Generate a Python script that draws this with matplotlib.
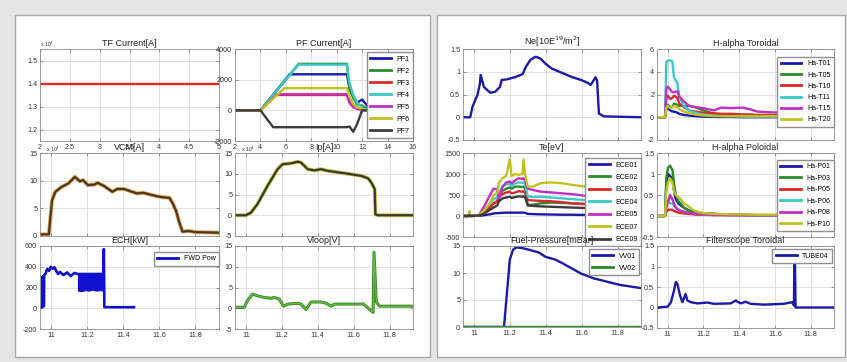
import matplotlib.pyplot as plt
from matplotlib.patches import Rectangle
from matplotlib.ticker import FormatStrFormatter

plt.rcParams['font.family'] = ['Liberation Sans', 'DejaVu Sans']

# ---- left panel data ----
tf_x = [2.0, 5.0]
tf_y = [1.4, 1.4]

pf_x = [2.0, 4.0, 5.0, 5.3, 5.9, 6.3, 7.0, 10.8, 11.0, 11.3, 11.6, 12.0, 12.4, 12.8]
pf1 = [0, 0, 1020, 1330, 1940, 2350, 2350, 2350, 1500, 900, 500, 700, 300, 0]
pf2 = [0, 0, 1000, 1300, 1900, 2300, 3030, 3030, 1400, 800, 400, 300, 100, 0]
pf3 = [0, 0, 800, 1000, 1000, 1000, 1000, 1000, 600, 300, 150, 50, 0, 0]
pf4 = [0, 0, 1000, 1300, 1900, 2300, 2980, 2980, 1800, 1000, 500, 200, 0, 0]
pf5 = [0, 0, 800, 1050, 1050, 1050, 1050, 1050, 500, 200, 100, 0, 0, 0]
pf6 = [0, 0, 760, 990, 1450, 1450, 1450, 1450, 900, 400, 200, 100, 0, 0]
pf7 = [0, 0, -1100, -1100, -1100, -1100, -1100, -1100, -1050, -1400, -900, 0, 0, 0]
pf_labels = ['PF1', 'PF2', 'PF3', 'PF4', 'PF5', 'PF6', 'PF7']

vcm_t = [10.935, 10.989, 10.998, 11.007, 11.025, 11.061, 11.097, 11.133, 11.16, 11.178,
         11.205, 11.241, 11.259, 11.296, 11.34, 11.368, 11.404, 11.44, 11.476, 11.512,
         11.548, 11.584, 11.62, 11.656, 11.674, 11.692, 11.71, 11.728, 11.764, 11.8, 11.93]
vcm = [0.3, 0.3, 3.5, 6.5, 8.0, 8.9, 9.5, 10.7, 9.9, 10.1,
       9.2, 9.3, 9.6, 9.0, 8.0, 8.5, 8.5, 8.1, 7.7, 7.8,
       7.5, 7.2, 7.0, 6.9, 5.9, 4.6, 2.5, 0.8, 0.9, 0.7, 0.6]

ip_t = [10.94, 11.0, 11.028, 11.065, 11.121, 11.177, 11.205, 11.251, 11.289, 11.307,
        11.345, 11.382, 11.419, 11.456, 11.568, 11.642, 11.68, 11.698, 11.717, 11.721,
        11.736, 11.93]
ip = [0, 0, 0.6, 2.7, 7.1, 11.1, 12.3, 12.5, 12.9, 12.7,
      11.1, 10.8, 11.1, 10.7, 10.0, 9.5, 8.9, 7.9, 6.3, 0.2,
      0, 0]

ech_t = [10.945, 10.952, 10.953, 10.957, 10.958, 10.962, 10.963, 10.97, 10.98, 10.99,
         11.0, 11.01, 11.02, 11.03, 11.04, 11.05, 11.07, 11.09, 11.11, 11.13,
         11.15, 11.29, 11.293, 11.296, 11.46]
ech = [10, 10, 300, 310, 20, 20, 320, 330, 380, 360,
       400, 380, 395, 360, 330, 350, 320, 345, 310, 340,
       330, 330, 570, 10, 10]
ech_band_t = [11.15, 11.17, 11.19, 11.21, 11.23, 11.25, 11.27, 11.29]
ech_band_lo = [170, 165, 175, 170, 180, 170, 175, 170]
ech_band_hi = [335, 340, 335, 330, 338, 330, 325, 335]

vloop_t = [10.94, 10.991, 11.009, 11.037, 11.065, 11.102, 11.14, 11.158, 11.186, 11.21,
           11.233, 11.289, 11.307, 11.335, 11.363, 11.419, 11.447, 11.475, 11.493, 11.512,
           11.642, 11.652, 11.708, 11.713, 11.726, 11.745, 11.773, 11.93]
vloop = [0.2, 0.2, 1.8, 3.4, 3.0, 2.6, 2.4, 2.6, 2.2, 0.5,
         1.0, 1.2, 1.0, -0.3, 1.5, 1.5, 1.2, 0.5, 1.0, 1.0,
         1.0, 1.1, -1.0, 13.5, 1.5, 0.5, 0.5, 0.5]

# ---- right panel data ----
ne_t = [10.948, 10.98, 10.993, 11.011, 11.02, 11.034, 11.038, 11.056, 11.074, 11.092,
        11.119, 11.146, 11.155, 11.182, 11.236, 11.272, 11.29, 11.308, 11.317, 11.344,
        11.371, 11.398, 11.434, 11.488, 11.542, 11.596, 11.632, 11.65, 11.668, 11.677,
        11.686, 11.696, 11.723, 11.93]
ne = [0, 0, 0.23, 0.41, 0.48, 0.74, 0.93, 0.67, 0.6, 0.54,
      0.56, 0.67, 0.82, 0.83, 0.89, 0.95, 1.11, 1.22, 1.27, 1.33,
      1.29, 1.18, 1.07, 0.98, 0.89, 0.82, 0.76, 0.71, 0.82, 0.88,
      0.8, 0.08, 0.02, 0]

hat_t = [10.944, 10.985, 10.992, 11.0, 11.015, 11.026, 11.035, 11.054, 11.065, 11.09,
         11.12, 11.15, 11.2, 11.26, 11.3, 11.35, 11.42, 11.46, 11.5, 11.55,
         11.65, 11.75, 11.85, 11.93]
ha_t01 = [0, 0, 0.7, 0.8, 0.6, 0.5, 0.5, 0.4, 0.3, 0.2, 0.15, 0.1, 0.05, 0.03, 0.02, 0.02,
          0, 0, 0, 0, 0, 0, 0, 0]
ha_t05 = [0, 0, 0.9, 1.1, 0.9, 0.9, 1.2, 1.1, 1.0, 1.0, 1.0, 0.9, 0.6, 0.3, 0.2, 0.15,
          0.1, 0.1, 0.1, 0.1, 0.05, 0.05, 0.05, 0.05]
ha_t10 = [0, 0, 1.6, 1.9, 1.6, 1.7, 1.9, 1.7, 1.2, 0.9, 0.6, 0.5, 0.4, 0.35, 0.3, 0.3,
          0.25, 0.25, 0.2, 0.2, 0.2, 0.2, 0.2, 0.2]
ha_t11 = [0, 0, 4.8, 5.0, 5.0, 4.9, 3.5, 3.0, 1.8, 1.0, 0.6, 0.4, 0.25, 0.15, 0.1, 0.08,
          0.06, 0.05, 0.05, 0.05, 0.05, 0.05, 0.05, 0.05]
ha_t15 = [0, 0, 2.5, 2.7, 2.4, 2.2, 2.2, 2.3, 1.8, 1.4, 1.0, 0.9, 0.8, 0.6, 0.85, 0.8,
          0.85, 0.7, 0.5, 0.45, 0.4, 0.38, 0.3, 0.28]
ha_t20 = [0, 0, 0.8, 1.0, 0.8, 0.9, 1.0, 0.9, 0.7, 0.5, 0.35, 0.25, 0.15, 0.1, 0.1, 0.1,
          0.1, 0.1, 0.1, 0.1, 0.1, 0.1, 0.1, 0.1]
hat_labels = ['Ha-T01', 'Ha-T05', 'Ha-T10', 'Ha-T11', 'Ha-T15', 'Ha-T20']

te_t = [10.94, 10.97, 10.975, 10.98, 11.03, 11.06, 11.09, 11.11, 11.13, 11.14,
        11.16, 11.18, 11.20, 11.21, 11.23, 11.25, 11.27, 11.277, 11.285, 11.30,
        11.33, 11.37, 11.43, 11.49, 11.55, 11.62, 11.70, 11.80, 11.93]
ece01 = [0, 0, 10, 0, 5, 20, 40, 60, 70, 70, 75, 80, 80, 80, 80, 80, 80, 80, 75, 50,
         45, 40, 35, 30, 30, 25, 20, 20, 20]
ece02 = [0, 0, 30, 0, 10, 100, 200, 300, 350, 450, 600, 650, 680, 650, 700, 700, 690, 700, 650, 260,
         270, 300, 320, 310, 300, 290, 270, 250, 230]
ece03 = [0, 0, 30, 0, 10, 100, 200, 300, 350, 450, 520, 560, 580, 540, 560, 590, 580, 590, 560, 380,
         370, 360, 350, 330, 300, 280, 250, 220, 200]
ece04 = [0, 0, 40, 0, 20, 150, 300, 400, 450, 550, 700, 750, 760, 720, 780, 800, 790, 800, 760, 470,
         450, 460, 440, 420, 400, 380, 350, 320, 300]
ece05 = [0, 0, 50, 0, 30, 250, 500, 650, 640, 400, 700, 800, 820, 780, 850, 900, 880, 900, 850, 650,
         620, 580, 560, 540, 520, 480, 440, 400, 370]
ece07 = [0, 0, 120, 0, 20, 150, 300, 500, 550, 800, 900, 950, 1350, 950, 1000, 980, 1000, 1350, 1000, 700,
         700, 780, 800, 780, 740, 700, 660, 620, 590]
ece09 = [0, 0, 20, 0, 10, 60, 150, 200, 250, 350, 420, 440, 460, 430, 450, 470, 460, 470, 450, 250,
         240, 230, 220, 210, 200, 190, 170, 150, 140]
ece_labels = ['ECE01', 'ECE02', 'ECE03', 'ECE04', 'ECE05', 'ECE07', 'ECE09']

hap_t = [10.944, 10.985, 10.992, 11.002, 11.013, 11.026, 11.035, 11.045, 11.06, 11.073,
         11.09, 11.11, 11.14, 11.166, 11.2, 11.259, 11.35, 11.5, 11.7, 11.93]
ha_p01 = [0, 0, 0.8, 1.0, 0.95, 0.9, 0.6, 0.4, 0.3, 0.25, 0.2, 0.15, 0.1, 0.08, 0.06, 0.05, 0.03, 0.02, 0.02, 0.02]
ha_p03 = [0, 0, 0.9, 1.15, 1.2, 1.1, 0.8, 0.5, 0.35, 0.3, 0.2, 0.15, 0.1, 0.08, 0.06, 0.05, 0.03, 0.02, 0.02, 0.02]
ha_p05 = [0, 0, 0.1, 0.15, 0.15, 0.15, 0.12, 0.1, 0.08, 0.07, 0.06, 0.05, 0.04, 0.03, 0.03, 0.02, 0.02, 0.02, 0.02, 0.02]
ha_p06 = [0, 0, 0.25, 0.35, 0.3, 0.3, 0.25, 0.2, 0.15, 0.12, 0.1, 0.08, 0.06, 0.05, 0.04, 0.03, 0.02, 0.02, 0.02, 0.02]
ha_p08 = [0, 0, 0.2, 0.35, 0.5, 0.4, 0.3, 0.2, 0.15, 0.12, 0.1, 0.08, 0.06, 0.05, 0.04, 0.03, 0.02, 0.02, 0.02, 0.02]
ha_p10 = [0, 0, 0.6, 0.8, 0.9, 0.8, 0.6, 0.5, 0.45, 0.4, 0.3, 0.25, 0.15, 0.1, 0.07, 0.05, 0.04, 0.03, 0.03, 0.03]
hap_labels = ['Ha-P01', 'Ha-P03', 'Ha-P05', 'Ha-P06', 'Ha-P08', 'Ha-P10']

fuel_t = [10.94, 11.168, 11.186, 11.2, 11.218, 11.236, 11.272, 11.308, 11.362, 11.398,
          11.452, 11.488, 11.542, 11.596, 11.668, 11.74, 11.812, 11.93]
vv01 = [0, 0, 6.9, 12.4, 14.3, 14.75, 14.6, 14.3, 13.8, 13.0,
        12.5, 11.9, 10.9, 9.9, 9.0, 8.4, 7.8, 7.2]
vv02 = [0] * len(fuel_t)

tube_t = [10.944, 11.0, 11.018, 11.035, 11.045, 11.054, 11.069, 11.082, 11.1, 11.11,
          11.129, 11.166, 11.222, 11.259, 11.352, 11.38, 11.408, 11.436, 11.464, 11.538,
          11.65, 11.696, 11.706, 11.709, 11.711, 11.715, 11.93]
tube04 = [0, 0.02, 0.13, 0.41, 0.62, 0.58, 0.29, 0.13, 0.33, 0.17,
          0.13, 0.1, 0.12, 0.09, 0.1, 0.17, 0.1, 0.14, 0.09, 0.07,
          0.09, 0.13, 0.05, 1.4, 1.4, 0.0, 0.0]

BLUE = '#1a1aa6'
GREEN = '#2a8a2a'
RED = '#e02828'
CYAN = '#3cc8c8'
MAG = '#c030c0'
YEL = '#c0c020'
DARK = '#3c3c3c'
six = [BLUE, GREEN, RED, CYAN, MAG, YEL]
seven = [BLUE, GREEN, RED, CYAN, MAG, YEL, DARK]

W, H = 847, 362
fig = plt.figure(figsize=(8.47, 3.62), dpi=100)
fig.patch.set_facecolor('#e4e4e4')

# white panels
for x0, x1 in [(15, 430), (437, 845)]:
    fig.add_artist(Rectangle((x0 / W, 1 - 357 / H), (x1 - x0) / W, 342 / H,
                             transform=fig.transFigure, facecolor='white',
                             edgecolor='#a8a8a8', lw=1.0, zorder=-5))


def make_axes(x0, y0, x1, y1):
    return fig.add_axes([x0 / W, 1 - y1 / H, (x1 - x0) / W, (y1 - y0) / H])


def style(ax, title, xlim, ylim, xticks, yticks, xlabels=True):
    ax.set_xlim(xlim)
    ax.set_ylim(ylim)
    ax.set_xticks(xticks)
    ax.set_yticks(yticks)
    ax.xaxis.set_major_formatter(FormatStrFormatter('%g'))
    ax.yaxis.set_major_formatter(FormatStrFormatter('%g'))
    ax.grid(True, color='#dcdcdc', lw=0.6)
    ax.set_axisbelow(True)
    ax.tick_params(labelsize=5.2, length=2, width=0.5, direction='in', top=True, right=True,
                   colors='#707070', labelcolor='#333333', pad=2)
    if not xlabels:
        ax.tick_params(labelbottom=False)
    for s in ax.spines.values():
        s.set_color('#8a8a8a')
        s.set_linewidth(0.6)
    ax.set_title(title, fontsize=6.5, pad=2.5, color='#222222')


def legend(ax, labels, anchor, spacing=0.7):
    leg = ax.legend(labels, loc='upper right', bbox_to_anchor=anchor, fontsize=5,
                    borderaxespad=0, handlelength=3.0, handletextpad=0.8, labelspacing=spacing,
                    borderpad=0.5, fancybox=False, edgecolor='#909090', framealpha=1)
    for line in leg.get_lines():
        line.set_linewidth(2.0)


time_lim = (10.94, 11.93)
time_ticks = [11, 11.2, 11.4, 11.6, 11.8]
LW = 1.7

# TF Current
ax = make_axes(40, 49, 219, 141)
ax.plot(tf_x, tf_y, color=RED, lw=LW)
style(ax, 'TF Current[A]', (2, 5), (1.15, 1.55), [2, 2.5, 3, 3.5, 4, 4.5, 5], [1.2, 1.3, 1.4, 1.5])
ax.text(0.0, 1.02, r'x 10$^4$', transform=ax.transAxes, fontsize=3.8, color='#333333')
ax.text(0.035, -0.035, r'x 10$^4$', transform=ax.transAxes, fontsize=3.8, va='top', color='#333333')

# PF Current
ax = make_axes(235, 49, 413, 141)
for vals, c in zip([pf1, pf2, pf3, pf4, pf5, pf6, pf7], seven):
    ax.plot(pf_x, vals, color=c, lw=LW)
style(ax, 'PF Current[A]', (2, 16), (-2000, 4000), [2, 4, 6, 8, 10, 12, 14, 16], [-2000, 0, 2000, 4000])
ax.text(0.035, -0.035, r'x 10$^4$', transform=ax.transAxes, fontsize=3.8, va='top', color='#333333')
legend(ax, pf_labels, (1.0, 0.967), spacing=0.72)

# VCM
ax = make_axes(40, 153, 219, 236)
ax.plot(vcm_t, vcm, color='#e8a050', lw=2.8)
ax.plot(vcm_t, vcm, color='#4a3a22', lw=1.6)
style(ax, 'VCM[A]', time_lim, (0, 15), time_ticks, [0, 5, 10, 15], xlabels=False)

# Ip
ax = make_axes(235, 153, 413, 236)
ax.plot(ip_t, ip, color='#c8c850', lw=2.8)
ax.plot(ip_t, ip, color='#3a3a2a', lw=1.6)
style(ax, 'Ip[A]', time_lim, (-5, 15), time_ticks, [-5, 0, 5, 10, 15], xlabels=False)

# ECH
ax = make_axes(40, 246, 219, 329)
ax.plot(ech_t, ech, color='#1010d0', lw=1.9)
ax.fill_between(ech_band_t, ech_band_lo, ech_band_hi, color='#1010d0', lw=0.8)
style(ax, 'ECH[kW]', time_lim, (-200, 600), time_ticks, [-200, 0, 200, 400, 600])
legend(ax, ['FWD Pow'], (1.0, 0.93))

# Vloop
ax = make_axes(235, 246, 413, 329)
ax.plot(vloop_t, vloop, color='#3a8a2a', lw=2.2)
ax.plot(vloop_t, vloop, color='#6cc040', lw=0.8)
style(ax, 'Vloop[V]', time_lim, (-5, 15), time_ticks, [-5, 0, 5, 10, 15])

# Ne
ax = make_axes(463, 49, 641, 140)
ax.plot(ne_t, ne, color=BLUE, lw=LW)
style(ax, r'Ne[10E$^{19}$/m$^2$]', time_lim, (-0.5, 1.5), time_ticks, [-0.5, 0, 0.5, 1, 1.5], xlabels=False)

# H-alpha Toroidal
ax = make_axes(657, 49, 834, 140)
for vals, c in zip([ha_t01, ha_t05, ha_t10, ha_t11, ha_t15, ha_t20], six):
    ax.plot(hat_t, vals, color=c, lw=LW)
style(ax, 'H-alpha Toroidal', time_lim, (-2, 6), time_ticks, [-2, 0, 2, 4, 6], xlabels=False)
legend(ax, hat_labels, (1.0, 0.912), spacing=0.6)

# Te
ax = make_axes(463, 153, 641, 237)
for vals, c in zip([ece01, ece02, ece03, ece04, ece05, ece07, ece09], seven):
    ax.plot(te_t, vals, color=c, lw=LW)
style(ax, 'Te[eV]', time_lim, (-500, 1500), time_ticks, [-500, 0, 500, 1000, 1500], xlabels=False)
legend(ax, ece_labels, (1.0, 0.94), spacing=0.78)

# H-alpha Poloidal
ax = make_axes(657, 153, 834, 237)
for vals, c in zip([ha_p01, ha_p03, ha_p05, ha_p06, ha_p08, ha_p10], six):
    ax.plot(hap_t, vals, color=c, lw=LW)
style(ax, 'H-alpha Poloidal', time_lim, (-0.5, 1.5), time_ticks, [-0.5, 0, 0.5, 1, 1.5], xlabels=False)
legend(ax, hap_labels, (1.0, 0.917), spacing=0.64)

# Fuel pressure
ax = make_axes(463, 246, 641, 327)
ax.plot(fuel_t, vv01, color=BLUE, lw=LW)
ax.plot(fuel_t, vv02, color=GREEN, lw=LW)
style(ax, 'Fuel-Pressure[mBar]', time_lim, (0, 15), time_ticks, [0, 5, 10, 15])
legend(ax, ['VV01', 'VV02'], (0.99, 0.96))

# Filterscope
ax = make_axes(657, 246, 834, 328)
ax.plot(tube_t, tube04, color=BLUE, lw=LW)
style(ax, 'Filterscope Toroidal', time_lim, (-0.5, 1.5), time_ticks, [-0.5, 0, 0.5, 1, 1.5])
legend(ax, ['TUBE04'], (0.99, 0.96))

fig.savefig('out.png', dpi=100, facecolor=fig.get_facecolor())
